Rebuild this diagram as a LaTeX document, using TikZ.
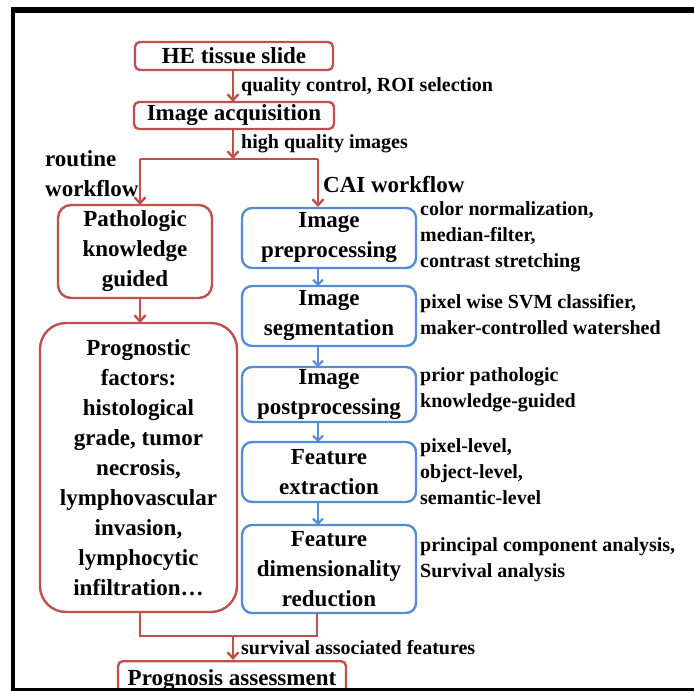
\documentclass[tikz,border=0pt]{standalone}
\usepackage{fontspec}
\setmainfont{Liberation Serif}[BoldFont={* Bold}]
\usetikzlibrary{arrows.meta}
\definecolor{flowred}{RGB}{192,80,77}
\definecolor{flowblue}{RGB}{86,140,212}
\tikzset{
  big/.style={font=\rmfamily\bfseries\fontsize{23}{30}\selectfont},
  small/.style={font=\rmfamily\bfseries\fontsize{20}{26}\selectfont},
  redbox/.style={big, draw=flowred, line width=2.4pt, fill=white, inner sep=0pt, align=center},
  bluebox/.style={big, draw=flowblue, line width=2.4pt, rounded corners=10pt, inner sep=0pt, align=center,
    minimum width=174pt},
  note/.style={small, anchor=west, align=left, inner sep=0pt},
  redline/.style={draw=flowred, line width=2.4pt},
  redarrow/.style={redline, -{Straight Barb[length=6pt,width=11pt]}},
  bluearrow/.style={draw=flowblue, line width=2pt, -{Straight Barb[length=5pt,width=10pt]}},
}
\begin{document}
\begin{tikzpicture}[x=1pt, y=-1pt]
\useasboundingbox (0,0) rectangle (694,691);
\fill[white] (0,0) rectangle (694,691);

% top of the flow
\node[redbox, rounded corners=5pt, minimum width=198pt, minimum height=28pt] (slide) at (234,56) {HE tissue slide};
\node[redbox, rounded corners=5pt, minimum width=200pt, minimum height=27pt] (acq) at (234,115.5) {Image acquisition};
\draw[redarrow] (233,70) -- (233,102);
\node[small, anchor=west, inner sep=0pt] (qc) at (241,87) {quality control, ROI selection};

% split into the two workflows
\coordinate (split) at (233,159);
\coordinate (splitL) at (140,159);
\coordinate (splitR) at (318,159);
\draw[redarrow] (233,129) -- (split);
\node[small, anchor=west, inner sep=0pt] (hq) at (241,144) {high quality images};
\draw[redline] (splitL) -- (splitR);

\node[big, anchor=west, align=left, inner sep=0pt] (routine) at (45,174) {routine\\workflow};
\node[big, anchor=west, inner sep=0pt] (cai) at (323,185) {CAI workflow};

% routine workflow
\node[redbox, rounded corners=13pt, minimum width=154pt, minimum height=93pt] (patho) at (135,251.5) {Pathologic\\knowledge\\guided};
\node[redbox, rounded corners=26pt, minimum width=197pt, minimum height=289pt] (progf) at (138.5,467.5)
  {Prognostic\\factors:\\histological\\grade, tumor\\necrosis,\\lymphovascular\\invasion,\\lymphocytic\\infiltration\ldots};
\draw[redarrow] (splitL) -- (140,205);
\draw[redarrow] (140,298) -- (140,323);

% CAI workflow
\node[bluebox, minimum height=60pt] (pre) at (329,238) {Image\\preprocessing};
\node[bluebox, minimum height=60pt] (seg) at (329,316) {Image\\segmentation};
\node[bluebox, minimum height=55pt] (post) at (329,394.5) {Image\\postprocessing};
\node[bluebox, minimum height=60pt] (fext) at (329,472) {Feature\\extraction};
\node[bluebox, minimum height=88pt] (fdim) at (329,569) {Feature\\dimensionality\\reduction};
\draw[redarrow] (splitR) -- (318,207);
\draw[bluearrow] (318,268) -- (318,286);
\draw[bluearrow] (318,346) -- (318,367);
\draw[bluearrow] (318,422) -- (318,442);
\draw[bluearrow] (318,502) -- (318,525);

\node[note] (npre) at (420,237) {color normalization,\\median-filter,\\contrast stretching};
\node[note] (nseg) at (420,315) {pixel wise SVM classifier,\\maker-controlled watershed};
\node[note] (npost) at (420,390) {prior pathologic\\knowledge-guided};
\node[note] (nfext) at (420,472) {pixel-level,\\object-level,\\semantic-level};
\node[note] (nfdim) at (420,560) {principal component analysis,\\Survival analysis};

% merge into the assessment
\coordinate (mergeL) at (140,636);
\coordinate (mergeR) at (317,636);
\draw[redline] (140,612) -- (mergeL) -- (mergeR) -- (317,613);
\node[redbox, rounded corners=5pt, minimum width=228pt, minimum height=38pt, anchor=north] (prog) at (232,660) {\raisebox{4pt}{Prognosis assessment}};
\draw[redarrow] (233,636) -- (prog.north -| 233,0);
\node[small, anchor=west, inner sep=0pt] (surv) at (241,648) {survival associated features};

% frame
\draw[line width=6pt] (694,10) -- (13,10);
\draw[line width=4.5pt] (13,7) -- (13,691);
\draw[line width=4pt] (13,690) -- (694,690);
\end{tikzpicture}
\end{document}
